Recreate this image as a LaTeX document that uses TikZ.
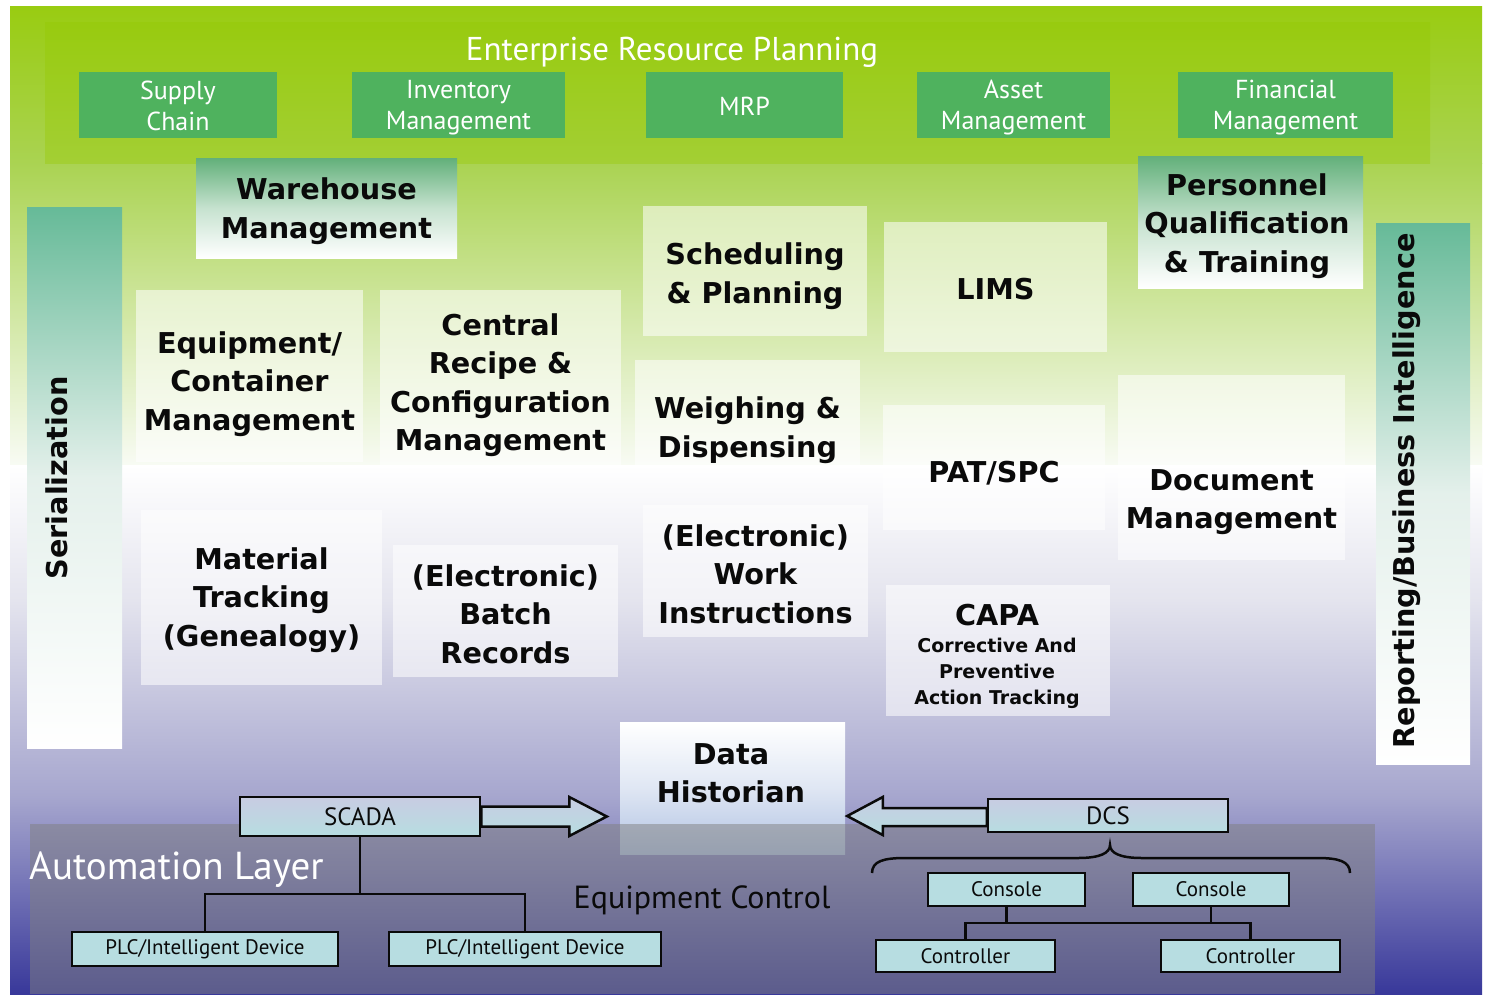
\documentclass[tikz,border=0pt]{standalone}
\usepackage{fontspec}
\setmainfont{DejaVu Sans}
\newfontfamily\tah{PT Sans}
\usetikzlibrary{calc}
\definecolor{erpgreen}{HTML}{4FB25E}
\definecolor{erppanelA}{HTML}{98CB0F}
\definecolor{erppanelB}{HTML}{A3CF34}
\definecolor{bgA}{HTML}{99CC11}
\definecolor{bgB}{HTML}{AAD352}
\definecolor{bgC}{HTML}{F8FBF4}
\definecolor{bgD}{HTML}{E4E4EE}
\definecolor{bgE}{HTML}{A6A6CE}
\definecolor{bgF}{HTML}{38389A}
\definecolor{hdgreen}{HTML}{62B07A}
\definecolor{hdmid}{HTML}{C6E2CF}
\definecolor{barteal}{HTML}{66BA98}
\definecolor{barmid}{HTML}{E4F0EB}
\definecolor{boxcyan}{HTML}{B7DDE1}
\definecolor{boxlav}{HTML}{C8CCE2}
\definecolor{histblue}{HTML}{B0C2E2}
\definecolor{inkc}{HTML}{0A0A0A}
\begin{document}
\begin{tikzpicture}[x=1pt,y=-1pt,
  erpbox/.style={fill=erpgreen,text=white,inner sep=0pt,align=center,font=\tah\fontsize{26}{31}\selectfont},
  modbox/.style={fill=white,fill opacity=0.55,draw=none,inner sep=0pt},
  headbox/.style={top color=hdgreen,bottom color=white,middle color=hdmid,draw=none,inner sep=0pt},
  barbox/.style={top color=barteal,bottom color=white,middle color=barmid,draw=none,inner sep=0pt},
  modtext/.style={inner sep=0pt,align=center,text=inkc,font=\bfseries\fontsize{28.7}{38.5}\selectfont},
  ctrlbox/.style={draw=inkc,line width=2.5pt,fill=boxcyan,inner sep=0pt,text=inkc,font=\tah\fontsize{21}{24}\selectfont},
  topbox/.style={draw=inkc,line width=2.5pt,top color=boxlav,bottom color=boxcyan,inner sep=0pt,text=inkc,font=\tah\fontsize{25}{28}\selectfont},
  blockarrow/.style={draw=inkc,line width=2.5pt,top color=boxlav,bottom color=boxcyan,line join=miter},
  wire/.style={draw=inkc,line width=2.5pt}
]
\useasboundingbox (0,0) rectangle (1485,994);
\fill[white] (0,0) rectangle (1485,994);
% background gradient
\shade[top color=bgA,bottom color=bgB] (10,6) rectangle (1482,163.5);
\shade[top color=bgB,bottom color=bgC] (10,163) rectangle (1482,465.5);
\shade[top color=white,bottom color=bgD] (10,465) rectangle (1482,600.5);
\shade[top color=bgD,bottom color=bgF,middle color=bgE] (10,600) rectangle (1482,994);
% ERP panel
\shade[top color=erppanelA,bottom color=erppanelB] (45,22) rectangle (1430,163);
\node[text=white,inner sep=0pt,font=\tah\fontsize{33}{38}\selectfont] (erp) at (672,52) {Enterprise Resource Planning};
\node[erpbox,minimum width=198,minimum height=66] (scB) at (178,105) {};
\node[erpbox] (sc) at (178,106) {Supply\\Chain};
\node[erpbox,minimum width=213,minimum height=66] (invB) at (458.5,105) {};
\node[erpbox] (inv) at (458.5,108) {Inventory\\Management};
\node[erpbox,minimum width=197,minimum height=66] (mrpB) at (744.5,105) {};
\node[erpbox] (mrp) at (744.5,106) {MRP};
\node[erpbox,minimum width=193,minimum height=66] (assetB) at (1013.5,105) {};
\node[erpbox] (asset) at (1013.5,108) {Asset\\Management};
\node[erpbox,minimum width=215,minimum height=66] (finB) at (1285.5,105) {};
\node[erpbox] (fin) at (1285.5,108) {Financial\\Management};
% green-headed boxes
\node[headbox,minimum width=261,minimum height=100] (whB) at (326.5,208) {};
\node[modtext] (whT) at (326.5,211) {Warehouse\\Management};
\node[headbox,minimum width=225,minimum height=132] (pqB) at (1250.5,222) {};
\node[modtext] (pqT) at (1247,226) {Personnel\\Qualification\\\& Training};
% side bars
\node[barbox,minimum width=95,minimum height=541] (serB) at (74.5,477.5) {};
\node[modtext,rotate=90] (serT) at (57,478) {Serialization};
\node[barbox,minimum width=94,minimum height=541] (repB) at (1423,493.5) {};
\node[modtext,rotate=90] (repT) at (1407,491) {Reporting/Business Intelligence};
% module boxes
\node[modbox,minimum width=227,minimum height=172] (eqB) at (249.5,376) {};
\node[modtext] (eqT) at (249.5,384) {Equipment/\\Container\\Management};
\node[modbox,minimum width=241,minimum height=178] (crB) at (500.5,379) {};
\node[modtext] (crT) at (500.5,385) {Central\\Recipe \&\\Configuration\\Management};
\node[modbox,minimum width=224,minimum height=130] (spB) at (755,271) {};
\node[modtext] (spT) at (755,276) {Scheduling\\\& Planning};
\node[modbox,minimum width=223,minimum height=130] (limsB) at (995.5,287) {};
\node[modtext] (limsT) at (995.5,289) {LIMS};
\node[modbox,minimum width=225,minimum height=108] (wdB) at (747.5,414) {};
\node[modtext] (wdT) at (747.5,430) {Weighing \&\\Dispensing};
\node[modbox,minimum width=222,minimum height=125] (patB) at (994,467.5) {};
\node[modtext] (patT) at (994,473) {PAT/SPC};
\node[modbox,minimum width=227,minimum height=185] (docB) at (1231.5,467.5) {};
\node[modtext] (docT) at (1231.5,502) {Document\\Management};
\node[modbox,minimum width=241,minimum height=175] (mtB) at (261.5,597.5) {};
\node[modtext] (mtT) at (261.5,600) {Material\\Tracking\\(Genealogy)};
\node[modbox,minimum width=225,minimum height=132] (ebB) at (505.5,611) {};
\node[modtext] (ebT) at (505.5,614) {(Electronic)\\Batch\\Records};
\node[modbox,minimum width=225,minimum height=132] (ewB) at (755.5,571) {};
\node[modtext] (ewT) at (755.5,574) {(Electronic)\\Work\\Instructions};
\node[modbox,minimum width=224,minimum height=131] (capaB) at (998,650.5) {};
\node[modtext] (capaT) at (997,615) {CAPA};
\node[modtext,font=\bfseries\fontsize{19}{26}\selectfont,anchor=north] (capaS) at ($(capaT.south)+(0,12)$) {Corrective And\\Preventive\\Action Tracking};
% data historian
\node[top color=white,bottom color=histblue,middle color=white!60!histblue,inner sep=0pt,minimum width=225,minimum height=132] (dhB) at (732.5,788) {};
\node[modtext] (dhT) at (731,773) {Data\\Historian};
% automation overlay
\fill[gray,fill opacity=0.5] (30,824) rectangle (1375,994);
\node[text=white,inner sep=0pt,anchor=west,font=\tah\fontsize{39}{42}\selectfont] (auto) at (29,870) {Automation Layer};
\node[text=inkc,inner sep=0pt,font=\tah\fontsize{32}{36}\selectfont] (eqc) at (702,900) {Equipment Control};
% SCADA side
\node[topbox,minimum width=240,minimum height=39] (scada) at (360,816.5) {SCADA};
\node[ctrlbox,minimum width=266,minimum height=34] (plc1) at (205,949) {PLC/Intelligent Device};
\node[ctrlbox,minimum width=272,minimum height=34] (plc2) at (525,949) {PLC/Intelligent Device};
\coordinate (jA) at (360,894);
\draw[wire] (scada.south) -- (jA);
\draw[wire] (plc1.north) |- (jA) -| (plc2.north);
\draw[blockarrow] ($(scada.east)+(0,-10)$) -- ($(scada.east)+(88,-10)$) -- ($(scada.east)+(88,-19.5)$)
  -- ($(dhB.west)+(-13,28.5)$) -- ($(scada.east)+(88,19.5)$) -- ($(scada.east)+(88,10)$) -- ($(scada.east)+(0,10)$) -- cycle;
% DCS side
\node[topbox,minimum width=240,minimum height=33] (dcs) at (1108,815.5) {DCS};
\draw[blockarrow] ($(dcs.west)+(0,-7.5)$) -- ($(dcs.west)+(-104,-7.5)$) -- ($(dcs.west)+(-104,-18.5)$)
  -- ($(dhB.east)+(2,28)$) -- ($(dcs.west)+(-104,19.5)$) -- ($(dcs.west)+(-104,10.5)$) -- ($(dcs.west)+(0,10.5)$) -- cycle;
\coordinate (brL) at (872,873);
\coordinate (brTip) at (1110,845);
\coordinate (brR) at (1350,873);
\draw[wire] (brL) .. controls (872,861) and (884,858) .. (905,858) -- (1078,858)
  .. controls (1100,858) and (1110,853) .. (brTip) .. controls (1110,853) and (1120,858) .. (1142,858)
  -- (1317,858) .. controls (1338,858) and (1350,861) .. (brR);
\node[ctrlbox,minimum width=157,minimum height=33] (con1) at (1006.5,889.5) {Console};
\node[ctrlbox,minimum width=156,minimum height=33] (con2) at (1211,889.5) {Console};
\node[ctrlbox,minimum width=179,minimum height=32] (ctl1) at (965.5,956) {Controller};
\node[ctrlbox,minimum width=179,minimum height=32] (ctl2) at (1250.5,956) {Controller};
\coordinate (jB) at (1110,923);
\draw[wire] (ctl1.north) |- (jB) -| (ctl2.north);
\draw[wire] (con1.south) -- (con1.south |- jB);
\draw[wire] (con2.south) -- (con2.south |- jB);
\end{tikzpicture}
\end{document}
